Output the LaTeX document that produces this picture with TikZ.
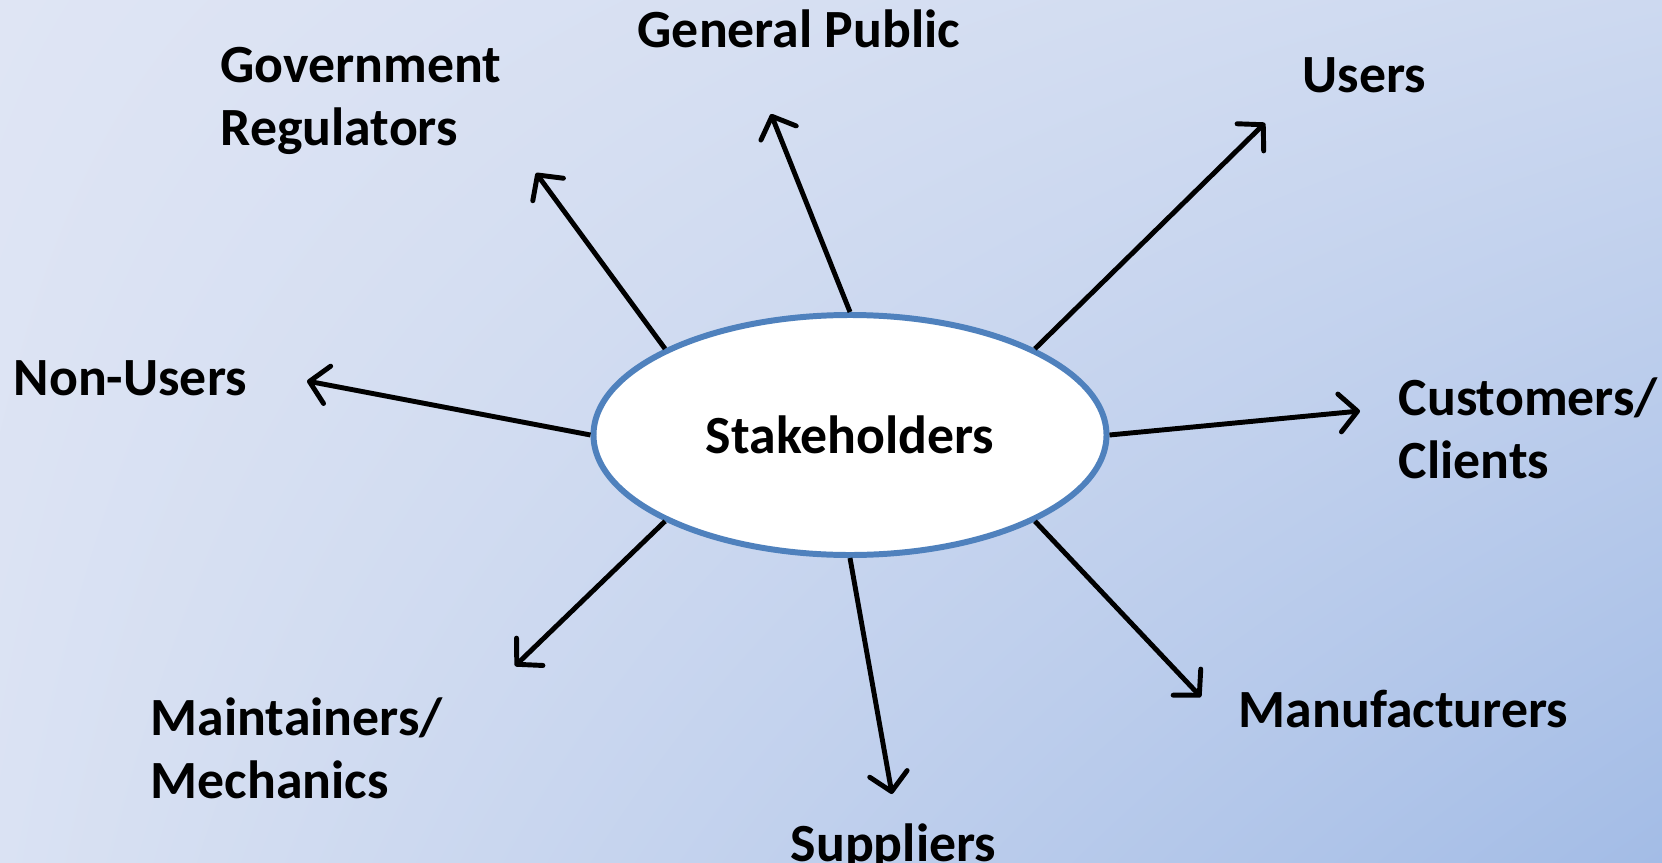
\documentclass[tikz,border=0pt]{standalone}
\usepackage{fontspec}
\setmainfont{Carlito}
\usetikzlibrary{arrows.meta,shapes.geometric,shadings}
\definecolor{bgtl}{RGB}{223,229,244}
\definecolor{bgtr}{RGB}{205,217,240}
\definecolor{bgbl}{RGB}{218,226,243}
\definecolor{bgbr}{RGB}{163,188,230}
\definecolor{stkblue}{RGB}{79,129,189}

\begin{document}
\begin{tikzpicture}[x=1cm, y=1cm,
  font=\fontsize{15.3}{17.9}\selectfont\bfseries,
  hub/.style={ellipse, draw=stkblue, line width=1.7pt, fill=white,
              minimum width=5.13cm, minimum height=2.4cm, inner sep=0pt},
  lab/.style={anchor=base west, align=left, inner sep=0pt},
  sarr/.style={-{Straight Barb[length=1.8mm, width=3.8mm, round]}, line width=1.4pt, black}]
\useasboundingbox (0,0) rectangle (16.62,8.62);
\clip (0,0) rectangle (16.62,8.62);
\shade[upper left=bgtl, upper right=bgtr, lower left=bgbl, lower right=bgbr]
  (0,0) rectangle (16.62,8.62);
% centre
\node[hub] (stake) at (8.50,4.27) {Stakeholders};
% free ends of the arrows
\coordinate (govtip)   at (5.36,6.89);
\coordinate (pubtip)   at (7.71,7.48);
\coordinate (usertip)  at (12.65,7.39);
\coordinate (nontip)   at (3.07,4.81);
\coordinate (custtip)  at (13.60,4.51);
\coordinate (mainttip) at (5.15,1.96);
\coordinate (supptip)  at (8.92,0.68);
\coordinate (manutip)  at (12.01,1.65);
% labels (base = last line)
\node[lab] (pub)   at (6.37,8.15)  {General Public};
\node[lab] (gov)   at (2.20,7.17)  {Government\\Regulators};
\node[lab] (user)  at (13.02,7.70) {Users};
\node[lab] (non)   at (0.13,4.67)  {Non-Users};
\node[lab] (cust)  at (13.98,3.84) {Customers/\\Clients};
\node[lab] (maint) at (1.50,0.64)  {Maintainers/\\Mechanics};
\node[lab] (manu)  at (12.38,1.35) {Manufacturers};
\node[lab] (supp)  at (7.90,0.01)  {Suppliers};
% arrows
\draw[sarr] (stake.155)   -- (govtip);
\draw[sarr] (stake.north) -- (pubtip);
\draw[sarr] (stake.25)    -- (usertip);
\draw[sarr] (stake.west)  -- (nontip);
\draw[sarr] (stake.east)  -- (custtip);
\draw[sarr] (stake.205)   -- (mainttip);
\draw[sarr] (stake.south) -- (supptip);
\draw[sarr] (stake.335)   -- (manutip);
\end{tikzpicture}
\end{document}
